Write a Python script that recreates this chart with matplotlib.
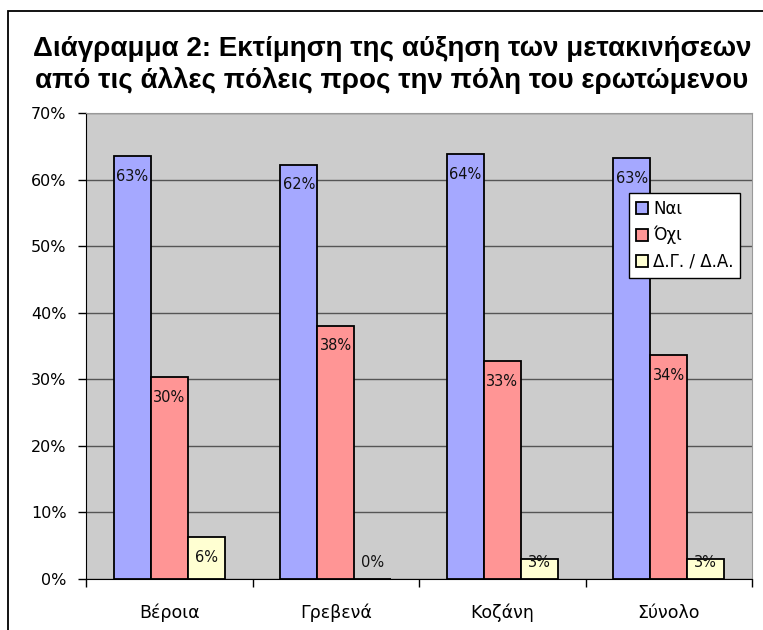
import numpy as np
import matplotlib.pyplot as plt
from matplotlib.patches import Rectangle

# ---------------- data ----------------
cities = ['Βέροια', 'Γρεβενά', 'Κοζάνη', 'Σύνολο']
nai = [63.5, 62.2, 63.8, 63.2]
oxi = [30.3, 38.0, 32.7, 33.6]
dgda = [6.3, 0.0, 3.0, 3.0]
nai_lbl = ['63%', '62%', '64%', '63%']
oxi_lbl = ['30%', '38%', '33%', '34%']
dgda_lbl = ['6%', '0%', '3%', '3%']
series_names = ['Ναι', 'Όχι', 'Δ.Γ. / Δ.Α.']
colors = ['#A5A8FF', '#FF9595', '#FFFFD2']
title = 'Διάγραμμα 2: Εκτίμηση της αύξηση των μετακινήσεων\nαπό τις άλλες πόλεις προς την πόλη του ερωτώμενου'
# --------------------------------------

W, H = 763, 630
fig = plt.figure(figsize=(W/100, H/100), dpi=100)

# outer chart border
fig.add_artist(Rectangle((8/W, -0.05), 1.2, 1 - 11/H + 0.05, transform=fig.transFigure,
                         fill=False, edgecolor='black', linewidth=1.3))

ax = fig.add_axes([86/W, 1 - 579/H, (752-86)/W, (579-113)/H])
ax.set_facecolor('#CCCCCC')

x = np.arange(len(cities))
bw = 0.222
offsets = [-bw, 0, bw]
all_vals = [nai, oxi, dgda]
all_lbls = [nai_lbl, oxi_lbl, dgda_lbl]
for k in range(3):
    ax.bar(x + offsets[k], all_vals[k], width=bw, color=colors[k],
           edgecolor='black', linewidth=1.3, label=series_names[k], zorder=3)
    for i, v in enumerate(all_vals[k]):
        ypos = max(v - 3.0, 2.55)
        ax.text(x[i] + offsets[k], ypos, all_lbls[k][i], ha='center', va='center',
                fontsize=10.5, color='#111111', zorder=4)

ax.set_xlim(-0.5, 3.5)
ax.set_ylim(0, 70)
ax.set_yticks(np.arange(0, 71, 10))
ax.set_yticklabels(['%d%%' % t for t in range(0, 71, 10)], fontsize=11.5)
ax.yaxis.grid(True, color='#555555', linewidth=1.0, zorder=0)
ax.set_axisbelow(True)

ax.set_xticks([-0.5, 0.5, 1.5, 2.5, 3.5], minor=False)
ax.set_xticklabels([])
ax.set_xticks(x, minor=True)
ax.set_xticklabels(cities, minor=True, fontsize=12.5)
ax.tick_params(axis='x', which='major', direction='out', length=6, width=1, color='black')
ax.tick_params(axis='x', which='minor', length=0, pad=18)
ax.tick_params(axis='y', direction='out', length=6, width=1, pad=8)

ax.spines['left'].set_color('black')
ax.spines['bottom'].set_color('black')
ax.spines['top'].set_color('#999999')
ax.spines['right'].set_color('#999999')

leg = ax.legend(loc='upper left', bbox_to_anchor=((629-86)/(752-86), (579-193)/(579-113)),
                frameon=True, fancybox=False, fontsize=12, handlelength=0.75,
                handleheight=0.75, handletextpad=0.3, borderpad=0.4, labelspacing=0.5,
                borderaxespad=0)
leg.get_frame().set_edgecolor('black')
leg.get_frame().set_linewidth(1.0)
leg.get_frame().set_facecolor('white')
leg.get_frame().set_alpha(1)

fig.text(392/W, 1 - 65/H, title, ha='center', va='center', fontsize=20,
         fontweight='bold', family='Liberation Sans', linespacing=1.2)

fig.savefig('out.png', dpi=100)
